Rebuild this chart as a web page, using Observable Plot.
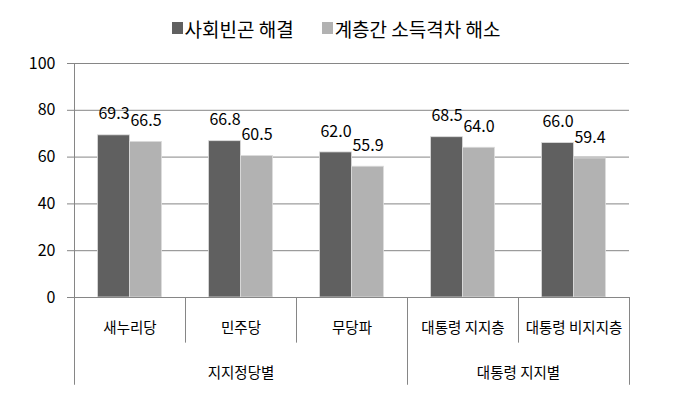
<!DOCTYPE html>
<html><head><meta charset="utf-8">
<script src="https://cdn.jsdelivr.net/npm/d3@7"></script>
<script src="https://cdn.jsdelivr.net/npm/@observablehq/plot@0.6"></script>
<style>
body{margin:0;background:#fff;font-family:"Noto Sans CJK KR","Noto Sans",sans-serif;}
#legend{height:44px;padding-top:6px;display:flex;justify-content:center;align-items:center;gap:28px;font-size:19px;color:#000;padding-right:17px;}
#legend .item{display:flex;align-items:center;gap:2px;}
#legend .sw{width:11px;height:12px;display:inline-block;}
svg{display:block;}
</style></head><body>
<div id="legend"></div>
<div id="chart"></div>
<script>
const categories = ["새누리당", "민주당", "무당파", "대통령 지지층", "대통령 비지지층"];
const groupNames = ["지지정당별", "대통령 지지별"];
const groupMembers = [["새누리당", "민주당", "무당파"], ["대통령 지지층", "대통령 비지지층"]];
const seriesNames = ["사회빈곤 해결", "계층간 소득격차 해소"];
const povertyValues = [69.3, 66.8, 62.0, 68.5, 66.0];
const gapValues = [66.5, 60.5, 55.9, 64.0, 59.4];
const yTicks = [0, 20, 40, 60, 80, 100];
const colors = ["#606060", "#b2b2b2"];

const W = 689, ML = 74, MR = 60;
const bw = (W - ML - MR) / categories.length;
const barW = 32;

const legend = document.getElementById("legend");
seriesNames.forEach((s, i) => {
  const it = document.createElement("div");
  it.className = "item";
  it.innerHTML = `<span class="sw" style="background:${colors[i]}"></span><span>${s}</span>`;
  legend.appendChild(it);
});

const dark = categories.map((c, i) => ({c, v: povertyValues[i]}));
const light = categories.map((c, i) => ({c, v: gapValues[i]}));

const innerEdges = categories.filter(c => !groupMembers.some(g => g[0] === c));
const outerEdges = groupMembers.map(g => g[0]).filter(c => c !== categories[0]);
const grid = "#868686";
const font = {fontSize: 14.5, fill: "#000"};

const groupMarks = groupMembers.map((members, gi) =>
  Plot.text([groupNames[gi]], {x: () => members[0], y: 0, dy: 76, dx: (members.length - 1) * bw / 2, text: d => d, ...font})
);

const chart = Plot.plot({
  width: W, height: 343,
  marginLeft: ML, marginRight: MR, marginTop: 13, marginBottom: 96,
  style: {fontFamily: '"Noto Sans CJK KR","Noto Sans",sans-serif', background: "#fff", overflow: "visible"},
  x: {domain: categories, padding: 0, axis: null},
  y: {domain: [0, 100], axis: null},
  marks: [
    Plot.ruleY(yTicks, {stroke: grid, strokeWidth: 1, strokeOpacity: 1}),
    Plot.axisY({ticks: yTicks, label: null, tickSize: 7, tickPadding: 12, stroke: grid, fontSize: 16, fill: "#000", strokeOpacity: 1, tickFormat: d => d}),
    Plot.barY(dark, {x: "c", y: "v", fill: colors[0], stroke: "#dcdcdc", strokeWidth: 0.8, insetLeft: bw / 2 - barW, insetRight: bw / 2}),
    Plot.barY(light, {x: "c", y: "v", fill: colors[1], stroke: "#dcdcdc", strokeWidth: 0.8, insetLeft: bw / 2, insetRight: bw / 2 - barW}),
    Plot.text(dark, {x: "c", y: "v", dx: -barW / 2, dy: -21, text: d => d.v.toFixed(1), fontSize: 16, fill: "#000"}),
    Plot.text(light, {x: "c", y: "v", dx: barW / 2, dy: -21, text: d => d.v.toFixed(1), fontSize: 16, fill: "#000"}),
    Plot.ruleY([0], {stroke: grid}),
    Plot.ruleX([categories[0]], {x: d => d, y1: -37.5, y2: 100, dx: -bw / 2, stroke: grid}),
    Plot.ruleX(innerEdges, {x: d => d, y1: 0, y2: -19.5, dx: -bw / 2, stroke: grid}),
    Plot.ruleX(outerEdges, {x: d => d, y1: 0, y2: -37.5, dx: -bw / 2, stroke: grid}),
    Plot.ruleX([categories[categories.length - 1]], {x: d => d, y1: 0, y2: -37.5, dx: bw / 2, stroke: grid}),
    Plot.text(categories, {x: d => d, y: 0, dy: 31, text: d => d, ...font}),
    ...groupMarks
  ]
});
document.getElementById("chart").appendChild(chart);
</script>
</body></html>
